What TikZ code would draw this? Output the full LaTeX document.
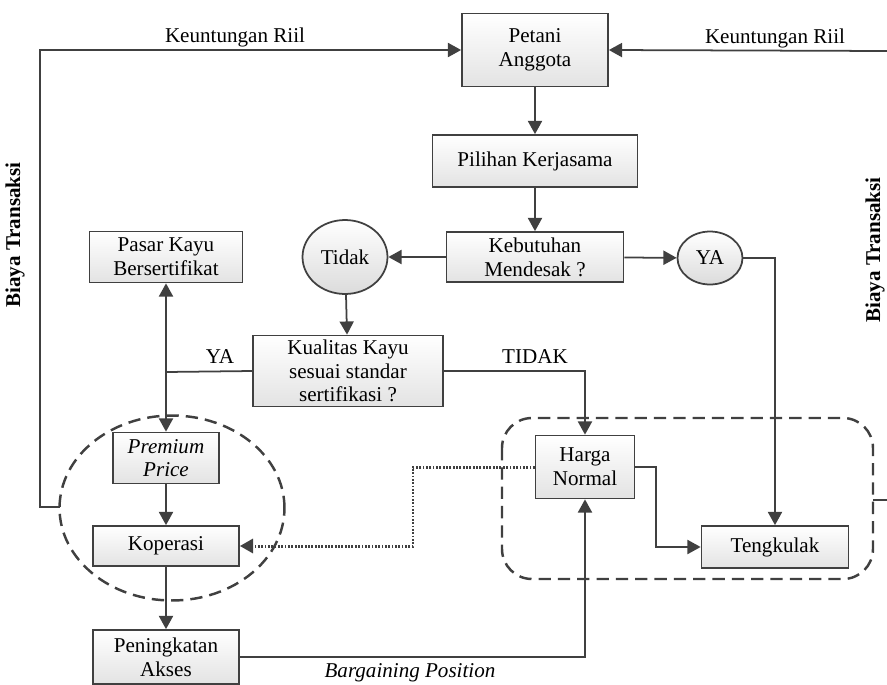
\documentclass[tikz,border=0pt]{standalone}
\usepackage{fontspec}
\setmainfont{Liberation Serif}
\usetikzlibrary{arrows.meta,shapes.geometric}
\definecolor{garis}{HTML}{404040}
\begin{document}
\begin{tikzpicture}[x=.02cm, y=-.02cm, >={Triangle[width=8pt,length=7.5pt]}, line width=1pt,
    every node/.style={font=\fontsize{12}{13.5}\selectfont, text=black},
    kotak/.style={draw=garis, rectangle, top color=white, bottom color=gray!22, align=center, inner sep=0pt},
    bulat/.style={draw=garis, ellipse, top color=white, bottom color=gray!28, inner sep=0pt},
    panah/.style={->, draw=garis},
    putus/.style={draw=garis, line width=1.4pt, dash pattern=on 7pt off 4pt}]
    \useasboundingbox (0,0) rectangle (887,684);
    
    \node[kotak, minimum width=2.92cm, minimum height=1.46cm] (petani) at (535,50) {Petani\\Anggota};
    \node[kotak, minimum width=4.1cm, minimum height=1.04cm] (pilihan) at (535,161) {Pilihan Kerjasama};
    \node[kotak, minimum width=3.54cm, minimum height=1cm] (kebutuhan) at (535,257) {Kebutuhan\\Mendesak ?};
    \node[bulat, minimum width=1.7cm, minimum height=1.48cm] (tidak) at (345,257) {Tidak};
    \node[bulat, minimum width=1.3cm, minimum height=1.06cm] (ya) at (710,258) {YA};
    \node[kotak, minimum width=3.8cm, minimum height=1.42cm] (kualitas) at (348,371) {Kualitas Kayu\\sesuai standar\\sertifikasi ?};
    \node[kotak, minimum width=3.06cm, minimum height=1.02cm] (pasar) at (166,257) {Pasar Kayu\\Bersertifikat};
    \node[kotak, minimum width=2.12cm, minimum height=1.02cm, font=\fontsize{12}{13.5}\selectfont\itshape] (premium) at (166,458) {Premium\\Price};
    \node[kotak, minimum width=2.92cm, minimum height=.8cm] (koperasi) at (166,546) {Koperasi};
    \node[kotak, minimum width=2.92cm, minimum height=1.08cm] (akses) at (166,657) {Peningkatan\\Akses};
    \node[kotak, minimum width=1.98cm, minimum height=1.26cm] (harga) at (585,467) {Harga\\Normal};
    \node[kotak, minimum width=2.94cm, minimum height=.84cm] (tengkulak) at (775,547) {Tengkulak};
    
    \draw[putus] (172,508) ellipse [x radius=2.25cm, y radius=1.85cm];
    \draw[putus, rounded corners=.6cm] (502,418) rectangle (873,579);
    
    \coordinate (kiri) at (60,507);
    \coordinate (kanan) at (887,51);
    \coordinate (cabang) at (166,372);
    \coordinate (keluar) at (873,500);
    
    \draw[panah] (kiri) -- (40,507) |- (petani.west);
    \draw[panah] (kanan) -- (petani.east);
    \draw[draw=garis] (keluar) -- (887,500);
    \node (untung1) at (235,37) {Keuntungan Riil};
    \node (untung2) at (775,38) {Keuntungan Riil};
    \node[rotate=90, inner sep=0pt, font=\fontsize{12}{13.5}\selectfont\bfseries] (biaya1) at (15,235) {Biaya Transaksi};
    \node[rotate=90, inner sep=0pt, font=\fontsize{12}{13.5}\selectfont\bfseries] (biaya2) at (875,250) {Biaya Transaksi};
    
    \draw[panah] (petani) -- (pilihan);
    \draw[panah] (pilihan) -- (kebutuhan);
    \draw[panah] (kebutuhan) -- (tidak);
    \draw[panah] (kebutuhan) -- (ya);
    \draw[panah] (ya.east) -| (tengkulak.north);
    \draw[panah] (tidak) -- (kualitas);
    \draw[panah] (kualitas.east) -| (harga.north);
    \node (tidak2) at (535,357) {TIDAK};
    \draw[draw=garis] (kualitas.west) -- (cabang);
    \node (ya2) at (220,357) {YA};
    \draw[panah] (cabang) -- (pasar.south);
    \draw[panah] (cabang) -- (premium.north);
    \draw[panah] (premium) -- (koperasi);
    \draw[panah] (koperasi) -- (akses);
    \draw[panah] (akses.east) -| (harga.south);
    \node[font=\fontsize{12}{13.5}\selectfont\itshape] (tawar) at (410,673) {Bargaining Position};
    \draw[panah, line width=1.7pt, dash pattern=on 1pt off .9pt] (harga.west) -- (413,467) |- (koperasi.east);
    \draw[panah] (harga.east) -- (656,467) |- (tengkulak.west);
    
\end{tikzpicture}
\end{document}
